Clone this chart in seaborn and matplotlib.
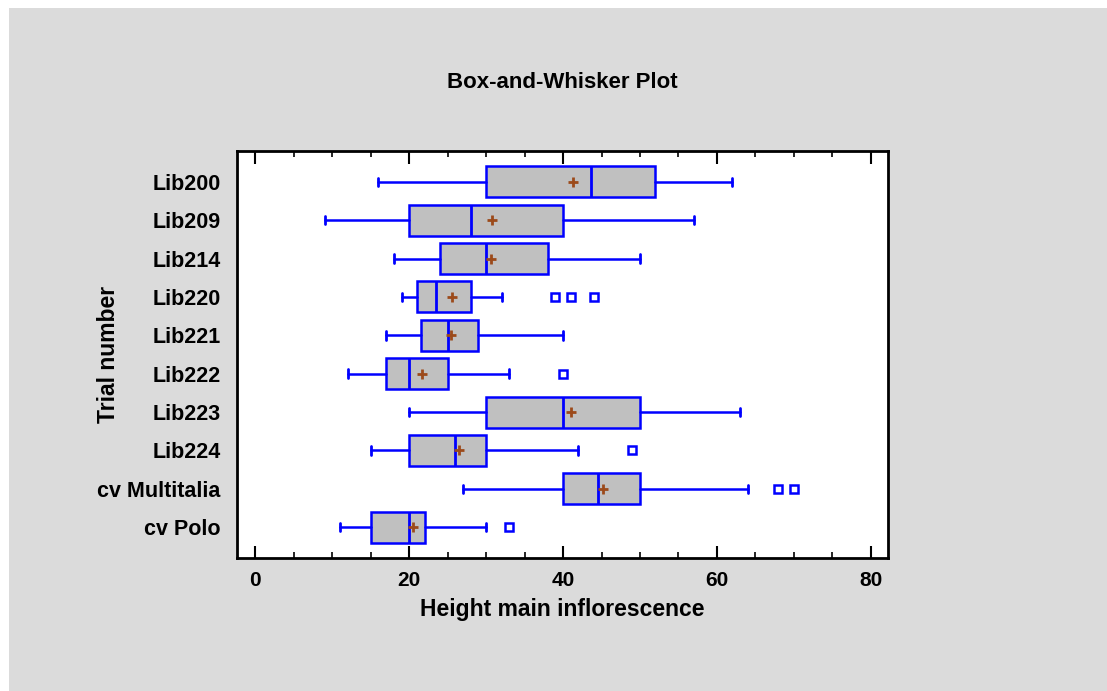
import matplotlib
matplotlib.use("Agg")
import matplotlib.pyplot as plt
from matplotlib.patches import Rectangle
from matplotlib.ticker import MultipleLocator
import seaborn as sns

# Box-and-whisker summary, top row first
groups = ["Lib200", "Lib209", "Lib214", "Lib220", "Lib221",
          "Lib222", "Lib223", "Lib224", "cv Multitalia", "cv Polo"]
whisk_lo = [16, 9, 18, 19, 17, 12, 20, 15, 27, 11]
q1 = [30, 20, 24, 21, 21.5, 17, 30, 20, 40, 15]
median = [43.6, 28, 30, 23.5, 25, 20, 40, 26, 44.5, 20]
q3 = [52, 40, 38, 28, 29, 25, 50, 30, 50, 22]
whisk_hi = [62, 57, 50, 32, 40, 33, 63, 42, 64, 30]
means = [41.3, 30.7, 30.6, 25.6, 25.4, 21.7, 41.0, 26.5, 45.2, 20.5]
outliers = [[], [], [], [39, 41, 44], [], [40], [], [49], [68, 70], [33]]

blue = "#0000FF"
brown = "#9C4A1A"
grey_bg = "#DBDBDB"

sns.set_style("white")
plt.rcParams["font.family"] = ["Liberation Sans", "DejaVu Sans"]
plt.rcParams["font.weight"] = "bold"
plt.rcParams["text.color"] = "black"
plt.rcParams["axes.labelcolor"] = "black"
plt.rcParams["xtick.color"] = "black"
plt.rcParams["ytick.color"] = "black"

fig = plt.figure(figsize=(11.07, 6.91), dpi=100)
fig.patch.set_facecolor("white")
fig.patches.append(Rectangle((9 / 1107, 0), 1, 1 - 8 / 691, transform=fig.transFigure,
                             facecolor=grey_bg, edgecolor="none", zorder=-10))
ax = fig.add_axes([0.2144, 0.192, 0.5875, 0.5899])
ax.set_facecolor("white")

pos = list(range(len(groups)))
stats = []
for i in pos:
    stats.append(dict(whislo=whisk_lo[i], q1=q1[i], med=median[i], q3=q3[i],
                      whishi=whisk_hi[i], fliers=[]))

ax.bxp(stats, positions=pos, orientation="horizontal", widths=0.81,
       patch_artist=True, showfliers=False, capwidths=0.22,
       boxprops=dict(facecolor="#C0C0C0", edgecolor=blue, linewidth=1.8),
       medianprops=dict(color=blue, linewidth=2),
       whiskerprops=dict(color=blue, linewidth=1.8),
       capprops=dict(color=blue, linewidth=2))

# means as brown crosses
sns.scatterplot(x=means, y=pos, marker="+", s=60, color=brown, linewidth=2,
                ax=ax, zorder=5, legend=False)

# outside points as hollow squares
ox, oy = [], []
for i, vals in enumerate(outliers):
    for v in vals:
        ox.append(v)
        oy.append(i)
ax.plot(ox, oy, linestyle="none", marker="s", markersize=5.5,
        markerfacecolor="white", markeredgecolor=blue, markeredgewidth=1.8, zorder=5)

ax.set_xlim(-2.34, 82.2)
ax.set_ylim(9.81, -0.81)
ax.set_yticks(pos)
ax.set_yticklabels(groups)
ax.xaxis.set_major_locator(MultipleLocator(20))
ax.xaxis.set_minor_locator(MultipleLocator(5))
ax.tick_params(axis="x", which="major", direction="in", length=9, width=1.5,
               top=True, bottom=True, labelsize=15, pad=9, color="black")
ax.tick_params(axis="x", which="minor", direction="in", length=4.5, width=1.2,
               top=True, bottom=True, color="black")
ax.tick_params(axis="y", length=0, labelsize=15.5, pad=12)
for lab in ax.get_xticklabels() + ax.get_yticklabels():
    lab.set_fontweight("bold")

for side in ["left", "bottom", "right", "top"]:
    ax.spines[side].set_visible(True)
    ax.spines[side].set_color("black")
    ax.spines[side].set_linewidth(2)

ax.set_xlabel("Height main inflorescence", fontsize=16.5, fontweight="bold", labelpad=6)
ax.set_ylabel("Trial number", fontsize=16.5, fontweight="bold")
ax.yaxis.set_label_coords(-0.18, 0.5)
ax.set_title("Box-and-Whisker Plot", fontsize=16, fontweight="bold", pad=45)

fig.savefig("out.png", dpi=100, facecolor=fig.get_facecolor())
